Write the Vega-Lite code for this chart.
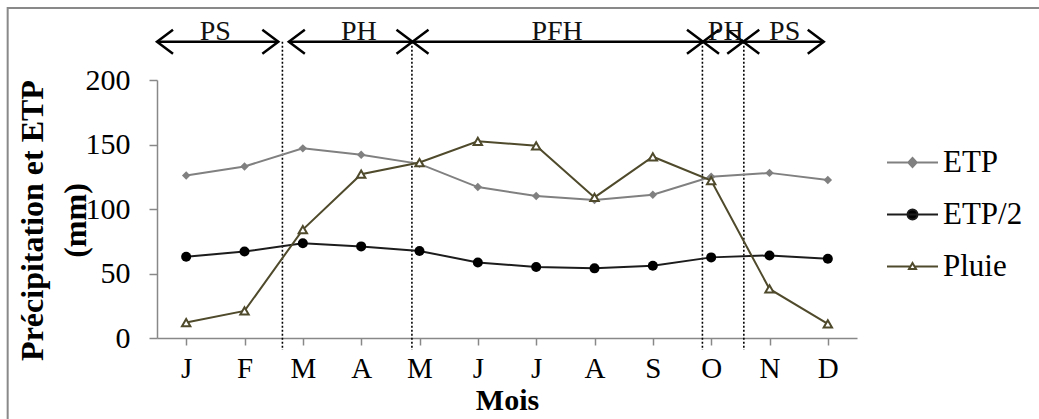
{
  "$schema": "https://vega.github.io/schema/vega-lite/v6.json",
  "autosize": {"type": "none"},
  "width": 700,
  "height": 258,
  "padding": {"left": 157, "top": 80, "right": 182, "bottom": 81},
  "background": "white",
  "datasets": {
    "series": [
      {"m": 1, "serie": "ETP", "v": 126}, {"m": 2, "serie": "ETP", "v": 133}, {"m": 3, "serie": "ETP", "v": 147},
      {"m": 4, "serie": "ETP", "v": 142}, {"m": 5, "serie": "ETP", "v": 135}, {"m": 6, "serie": "ETP", "v": 117},
      {"m": 7, "serie": "ETP", "v": 110}, {"m": 8, "serie": "ETP", "v": 107}, {"m": 9, "serie": "ETP", "v": 111},
      {"m": 10, "serie": "ETP", "v": 125}, {"m": 11, "serie": "ETP", "v": 128}, {"m": 12, "serie": "ETP", "v": 122.5},
      {"m": 1, "serie": "ETP/2", "v": 63}, {"m": 2, "serie": "ETP/2", "v": 67}, {"m": 3, "serie": "ETP/2", "v": 73.5},
      {"m": 4, "serie": "ETP/2", "v": 71}, {"m": 5, "serie": "ETP/2", "v": 67.5}, {"m": 6, "serie": "ETP/2", "v": 58.5},
      {"m": 7, "serie": "ETP/2", "v": 55}, {"m": 8, "serie": "ETP/2", "v": 54}, {"m": 9, "serie": "ETP/2", "v": 56},
      {"m": 10, "serie": "ETP/2", "v": 62.5}, {"m": 11, "serie": "ETP/2", "v": 64}, {"m": 12, "serie": "ETP/2", "v": 61.5},
      {"m": 1, "serie": "Pluie", "v": 12}, {"m": 2, "serie": "Pluie", "v": 21}, {"m": 3, "serie": "Pluie", "v": 84},
      {"m": 4, "serie": "Pluie", "v": 127}, {"m": 5, "serie": "Pluie", "v": 136}, {"m": 6, "serie": "Pluie", "v": 152.5},
      {"m": 7, "serie": "Pluie", "v": 149}, {"m": 8, "serie": "Pluie", "v": 109}, {"m": 9, "serie": "Pluie", "v": 140.5},
      {"m": 10, "serie": "Pluie", "v": 122}, {"m": 11, "serie": "Pluie", "v": 38}, {"m": 12, "serie": "Pluie", "v": 11}
    ],
    "periods": [
      {"label": "PS", "a": 0.5, "b": 2.58, "lx": 1.5},
      {"label": "PH", "a": 2.76, "b": 4.88, "lx": 3.96},
      {"label": "PFH", "a": 4.88, "b": 9.86, "lx": 7.36},
      {"label": "PH", "a": 9.86, "b": 10.55, "lx": 10.25},
      {"label": "PS", "a": 10.55, "b": 11.93, "lx": 11.26}
    ],
    "bounds": [{"vx": 2.65}, {"vx": 4.87}, {"vx": 9.85}, {"vx": 10.56}]
  },
  "layer": [
    {
      "data": {"values": [{"f": 1}]},
      "mark": {"type": "rule", "color": "#898989", "strokeWidth": 2},
      "encoding": {
        "x": {"datum": -2.06, "type": "quantitative"},
        "x2": {"datum": 30},
        "y": {"datum": 255.8, "type": "quantitative"}
      }
    },
    {
      "data": {"values": [{"f": 1}]},
      "mark": {"type": "rule", "color": "#898989", "strokeWidth": 2},
      "encoding": {
        "x": {"datum": -2.06, "type": "quantitative"},
        "y": {"datum": 256.5, "type": "quantitative"},
        "y2": {"datum": -300}
      }
    },
    {
      "data": {"name": "bounds"},
      "mark": {"type": "rule", "color": "black", "strokeWidth": 1.6, "strokeDash": [2, 2]},
      "encoding": {
        "x": {"field": "vx", "type": "quantitative"},
        "y": {"datum": 229.7, "type": "quantitative"},
        "y2": {"datum": -9.3}
      }
    },
    {
      "data": {"name": "periods"},
      "mark": {"type": "rule", "color": "black", "strokeWidth": 2.5},
      "encoding": {
        "x": {"field": "a", "type": "quantitative"},
        "x2": {"field": "b"},
        "y": {"datum": 229.7, "type": "quantitative"}
      }
    },
    {
      "data": {"name": "periods"},
      "mark": {"type": "point", "shape": "M3.2,-2.4L0,0L3.2,2.4", "size": 100, "filled": false, "color": "black", "strokeWidth": 2.5, "opacity": 1},
      "encoding": {
        "x": {"field": "a", "type": "quantitative"},
        "y": {"datum": 229.7, "type": "quantitative"}
      }
    },
    {
      "data": {"name": "periods"},
      "mark": {"type": "point", "shape": "M-3.2,-2.4L0,0L-3.2,2.4", "size": 100, "filled": false, "color": "black", "strokeWidth": 2.5, "opacity": 1},
      "encoding": {
        "x": {"field": "b", "type": "quantitative"},
        "y": {"datum": 229.7, "type": "quantitative"}
      }
    },
    {
      "data": {"name": "periods"},
      "mark": {"type": "text", "font": "Liberation Serif", "fontSize": 28, "baseline": "alphabetic", "align": "center", "color": "#111"},
      "encoding": {
        "x": {"field": "lx", "type": "quantitative"},
        "y": {"datum": 231, "type": "quantitative"},
        "text": {"field": "label"}
      }
    },
    {
      "data": {"name": "series"},
      "transform": [{"filter": "datum.serie === 'ETP'"}],
      "mark": {"type": "line", "color": "#808080", "strokeWidth": 2},
      "encoding": {
        "x": {"field": "m", "type": "quantitative", "scale": {"domain": [0.5, 12.5], "nice": false, "zero": false},
          "axis": {"values": [1, 2, 3, 4, 5, 6, 7, 8, 9, 10, 11, 12],
            "labelExpr": "['J','F','M','A','M','J','J','A','S','O','N','D'][datum.value - 1]",
            "title": "Mois"}},
        "y": {"field": "v", "type": "quantitative", "scale": {"domain": [0, 200], "nice": false},
          "axis": {"values": [0, 50, 100, 150, 200], "title": ["Précipitation et ETP", "(mm)"]}}
      }
    },
    {
      "data": {"name": "series"},
      "transform": [{"filter": "datum.serie === 'ETP'"}],
      "mark": {"type": "point", "shape": "diamond", "size": 72, "filled": true, "color": "#808080", "opacity": 1},
      "encoding": {
        "x": {"field": "m", "type": "quantitative"},
        "y": {"field": "v", "type": "quantitative"}
      }
    },
    {
      "data": {"name": "series"},
      "transform": [{"filter": "datum.serie === 'ETP/2'"}],
      "mark": {"type": "line", "color": "#1c1c1c", "strokeWidth": 2},
      "encoding": {
        "x": {"field": "m", "type": "quantitative"},
        "y": {"field": "v", "type": "quantitative"}
      }
    },
    {
      "data": {"name": "series"},
      "transform": [{"filter": "datum.serie === 'ETP/2'"}],
      "mark": {"type": "point", "shape": "circle", "size": 100, "filled": true, "color": "#000000", "opacity": 1},
      "encoding": {
        "x": {"field": "m", "type": "quantitative"},
        "y": {"field": "v", "type": "quantitative"}
      }
    },
    {
      "data": {"name": "series"},
      "transform": [{"filter": "datum.serie === 'Pluie'"}],
      "mark": {"type": "line", "color": "#4f4a2b", "strokeWidth": 2},
      "encoding": {
        "x": {"field": "m", "type": "quantitative"},
        "y": {"field": "v", "type": "quantitative"}
      }
    },
    {
      "data": {"name": "series"},
      "transform": [{"filter": "datum.serie === 'Pluie'"}],
      "mark": {"type": "point", "shape": "triangle-up", "size": 70, "filled": false, "fill": "white", "stroke": "#4f4a2b", "strokeWidth": 2, "opacity": 1},
      "encoding": {
        "x": {"field": "m", "type": "quantitative"},
        "y": {"field": "v", "type": "quantitative"}
      }
    },
    {
      "data": {"name": "series"},
      "transform": [{"filter": "false"}],
      "mark": {"type": "point", "opacity": 1, "strokeWidth": 2},
      "encoding": {
        "x": {"field": "m", "type": "quantitative"},
        "y": {"field": "v", "type": "quantitative"},
        "stroke": {"field": "serie", "type": "nominal",
          "scale": {"domain": ["ETP", "ETP/2", "Pluie"], "range": ["#808080", "#1c1c1c", "#4f4a2b"]},
          "legend": {"title": null, "orient": "none", "legendX": 740, "legendY": 67, "symbolSize": 400, "symbolStrokeWidth": 2, "labelOffset": 15, "rowPadding": 20, "padding": 0}},
        "fill": {"field": "serie", "type": "nominal",
          "scale": {"domain": ["ETP", "ETP/2", "Pluie"], "range": ["#808080", "#000000", "#ffffff"]},
          "legend": {"title": null, "orient": "none", "legendX": 740, "legendY": 67, "symbolSize": 400, "symbolStrokeWidth": 2, "labelOffset": 15, "rowPadding": 20, "padding": 0}},
        "shape": {"field": "serie", "type": "nominal",
          "scale": {"domain": ["ETP", "ETP/2", "Pluie"], "range": [
            "M-2.55,0L2.55,0M0,-0.45L0.42,0L0,0.45L-0.42,0Z",
            "M-2.55,0L2.55,0M0.5,0A0.5,0.5,0,1,1,-0.5,0A0.5,0.5,0,1,1,0.5,0Z",
            "M-2.55,0L-0.2,0M0.2,0L2.55,0M0,-0.35L0.35,0.25L-0.35,0.25Z"]},
          "legend": {"title": null, "orient": "none", "legendX": 740, "legendY": 67, "symbolSize": 400, "symbolStrokeWidth": 2, "labelOffset": 15, "rowPadding": 20, "padding": 0}}
      }
    }
  ],
  "config": {
    "view": {"stroke": null},
    "font": "Liberation Serif",
    "axis": {"grid": false, "domainColor": "#888888", "tickColor": "#888888", "domainWidth": 1.5, "tickWidth": 1.5,
      "labelColor": "black", "titleColor": "black", "labelFont": "Liberation Serif", "titleFont": "Liberation Serif"},
    "axisX": {"tickSize": 7, "labelFontSize": 29, "labelBaseline": "alphabetic", "labelPadding": 32, "labelFlush": false, "labelOverlap": false,
      "titleFontSize": 30, "titleFontWeight": "bold", "titleY": 71, "titleBaseline": "alphabetic"},
    "axisY": {"tickSize": 8, "labelFontSize": 30, "labelPadding": 19,
      "titleFontSize": 32, "titleFontWeight": "bold", "titleAngle": -90, "titleX": -125, "titleY": 140,
      "titleBaseline": "middle", "titleAlign": "center", "titleLineHeight": 43},
    "legend": {"labelFont": "Liberation Serif", "labelFontSize": 31, "labelColor": "black"}
  }
}
